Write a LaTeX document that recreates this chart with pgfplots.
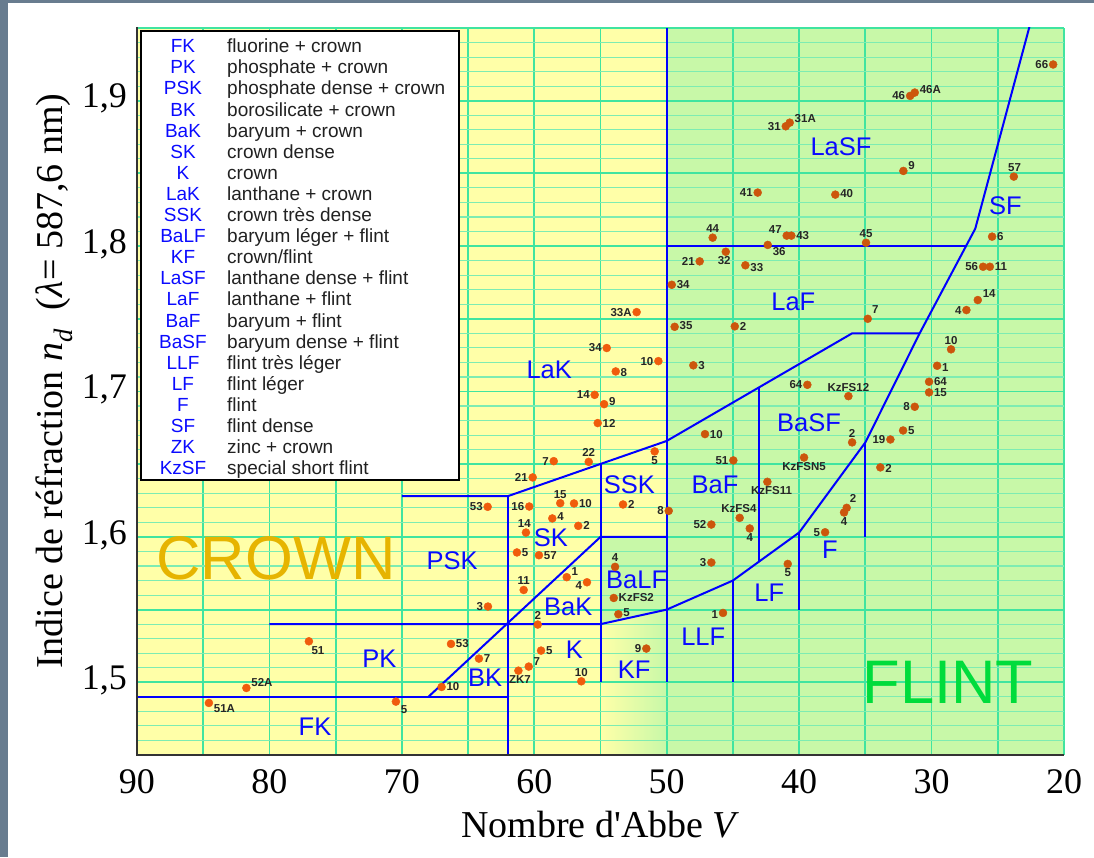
\documentclass[border=0pt]{standalone}
\usepackage{fontspec}
\setmainfont{Liberation Serif}
\setsansfont{Liberation Sans}
\usepackage{pgfplots}
\pgfplotsset{compat=1.18}

\definecolor{yel}{RGB}{255,255,168}
\definecolor{grn}{RGB}{200,248,168}
\definecolor{gridmaj}{RGB}{64,228,160}
\definecolor{gridmin}{RGB}{125,236,178}
\definecolor{dotcrown}{RGB}{240,92,12}
\definecolor{dotflint}{RGB}{204,86,12}
\definecolor{crowngold}{RGB}{230,180,0}
\definecolor{flintgreen}{RGB}{0,220,60}
\definecolor{frame}{RGB}{104,124,143}
\definecolor{regblue}{RGB}{10,10,255}

\tikzset{reg/.style={font=\sffamily\fontsize{25.5}{26}\selectfont, text=regblue, inner sep=0pt}}

\begin{document}
\begin{tikzpicture}
% pixel frame of the whole picture (1 px = 1 pt, origin at the top left)
\begin{scope}[x=1pt,y=-1pt,shift={(-137pt,755pt)}]
  \useasboundingbox (0,0) rectangle (1094,857);
  \fill[frame] (0,0) rectangle (8,857);
  \fill[frame] (0,0) rectangle (1094,3);
\end{scope}

\begin{axis}[
  set layers,
  scale only axis,
  width=927pt, height=727pt,
  at={(0,0)}, anchor=south west,
  x dir=reverse,
  xmin=20, xmax=90, ymin=1.45, ymax=1.95,
  axis line style={draw=none},
  major tick length=0pt, minor tick length=0pt,
  xtick={20,25,...,90},
  xticklabels={20,,30,,40,,50,,60,,70,,80,,90},
  ytick={1.5,1.6,1.7,1.8,1.9},
  minor ytick={1.46,1.47,1.48,1.49,1.51,1.52,1.53,1.54,1.56,1.57,1.58,1.59,
    1.61,1.62,1.63,1.64,1.66,1.67,1.68,1.69,1.71,1.72,1.73,1.74,1.76,1.77,1.78,1.79,
    1.81,1.82,1.83,1.84,1.86,1.87,1.88,1.89,1.91,1.92,1.93,1.94},
  extra y ticks={1.45,1.55,1.65,1.75,1.85,1.95},
  extra y tick labels={},
  extra y tick style={grid=major},
  grid=both,
  major grid style={gridmaj, line width=1.8pt},
  minor grid style={gridmin, line width=1.1pt},
  ticklabel style={font=\fontsize{36}{36}\selectfont},
  xticklabel style={anchor=north, inner sep=0pt, yshift=-14pt},
  yticklabel style={anchor=east, inner sep=0pt, xshift=-10pt, yshift=2pt},
  /pgf/number format/.cd, use comma, fixed, precision=1, assume math mode=true,
  /pgfplots/.cd,
  xlabel={Nombre d\textquotesingle Abbe \textit{V}},
  xlabel style={at={(axis description cs:0.5,-0.077)}, anchor=north,
    inner sep=0pt, font=\fontsize{38}{38}\selectfont},
  ylabel={Indice de réfraction \textit{n}\textsubscript{\textit{d}}\ \ (\textit{λ}= 587,6 nm)},
  ylabel style={at={(axis description cs:-0.0895,0.514)}, anchor=center,
    inner sep=0pt, font=\fontsize{38}{38}\selectfont},
]

\begin{pgfonlayer}{axis background}
  \fill[yel] (axis cs:90,1.45) rectangle (axis cs:50,1.95);
  \fill[grn] (axis cs:50,1.45) rectangle (axis cs:20,1.95);
  \fill[grn] (axis cs:55,1.54) -- (axis cs:50,1.55) -- (axis cs:50,1.60) -- (axis cs:55,1.60) -- cycle;
  \shade[left color=yel, right color=grn] (axis cs:55,1.45) -- (axis cs:55,1.54)
    -- (axis cs:50,1.55) -- (axis cs:50,1.45) -- cycle;
\end{pgfonlayer}

% boundaries of the glass families
\addplot[blue, line width=2pt] coordinates {(90,1.49) (62,1.49)};
\addplot[blue, line width=2pt] coordinates {(80,1.54) (62,1.54) (55,1.54) (50,1.55) (45,1.57)
  (40,1.603) (35,1.665) (30.9,1.74) (26.7,1.812) (22.4,1.958)};
\addplot[blue, line width=2pt] coordinates {(68,1.49) (55,1.60) (50,1.60)};
\addplot[blue, line width=2pt] coordinates {(70,1.628) (62,1.628) (50,1.666) (36,1.74) (30.9,1.74)};
\addplot[blue, line width=2pt] coordinates {(62,1.628) (62,1.45)};
\addplot[blue, line width=2pt] coordinates {(55,1.650) (55,1.50)};
\addplot[blue, line width=2pt] coordinates {(50,1.95) (50,1.50)};
\addplot[blue, line width=2pt] coordinates {(50,1.80) (27.4,1.80)};
\addplot[blue, line width=2pt] coordinates {(43,1.703) (43,1.583)};
\addplot[blue, line width=2pt] coordinates {(45,1.57) (45,1.50)};
\addplot[blue, line width=2pt] coordinates {(40,1.603) (40,1.55)};
\addplot[blue, line width=2pt] coordinates {(35,1.665) (35,1.60)};

\node[font=\sffamily\fontsize{61.5}{62}\selectfont, text=crowngold, inner sep=0pt]
  at (axis cs:79.5,1.585) {CROWN};
\node[font=\sffamily\fontsize{61.5}{62}\selectfont, text=flintgreen, inner sep=0pt]
  at (axis cs:28.75,1.5) {FLINT};

\node[reg] at (axis cs:76.56,1.4695) {FK};
\node[reg] at (axis cs:71.70,1.5163) {PK};
\node[reg] at (axis cs:66.20,1.5833) {PSK};
\node[reg] at (axis cs:63.72,1.5032) {BK};
\node[reg] at (axis cs:57.43,1.5521) {BaK};
\node[reg] at (axis cs:58.74,1.5996) {SK};
\node[reg] at (axis cs:56.98,1.5222) {K};
\node[reg] at (axis cs:52.45,1.5089) {KF};
\node[reg] at (axis cs:52.27,1.5704) {BaLF};
\node[reg] at (axis cs:58.87,1.7149) {LaK};
\node[reg] at (axis cs:52.82,1.6356) {SSK};
\node[reg] at (axis cs:47.24,1.5314) {LLF};
\node[reg] at (axis cs:42.25,1.5617) {LF};
\node[reg] at (axis cs:37.67,1.5910) {F};
\node[reg] at (axis cs:46.35,1.6360) {BaF};
\node[reg] at (axis cs:39.25,1.6787) {BaSF};
\node[reg] at (axis cs:40.44,1.7617) {LaF};
\node[reg] at (axis cs:36.84,1.8684) {LaSF};
\node[reg] at (axis cs:24.43,1.8278) {SF};

% glasses on the crown (yellow) side: Abbe number, n_d, label, label anchor angle
\addplot[only marks, mark=*, mark size=4pt, color=dotcrown,
    point meta=explicit symbolic, nodes near coords,
    visualization depends on={value \thisrow{anc}\as\anc},
    every node near coord/.append style={anchor=\anc, inner sep=4.8pt,
      text=black!85, font=\sffamily\bfseries\fontsize{11.5}{12}\selectfont}]
  table[x=V, y=n, meta=lab] {
V n lab anc
84.57 1.4858 51A 160
81.74 1.4961 52A 200
77.02 1.5282 51 135
70.45 1.4867 5 135
67.00 1.4968 10 180
66.29 1.5264 53 180
64.18 1.5163 7 180
63.52 1.6207 53 0
63.50 1.5521 3 0
61.31 1.5893 5 180
61.20 1.5080 ZK7 100
60.80 1.5635 11 270
60.63 1.6030 14 280
60.42 1.5108 7 210
60.38 1.6209 16 0
60.12 1.6409 21 0
59.74 1.5397 2 270
59.65 1.5874 57 180
59.49 1.5218 5 180
58.64 1.6127 4 190
58.53 1.6521 7 0
58.04 1.6232 15 270
57.55 1.5723 1 215
57.00 1.6230 10 180
56.68 1.6076 2 180
56.45 1.5007 10 270
56.02 1.5688 4 20
55.89 1.6516 22 270
55.44 1.6977 14 0
55.21 1.6783 12 180
54.73 1.6913 9 200
54.53 1.7299 34 0
53.85 1.7138 8 175
53.30 1.6223 2 180
52.27 1.7546 33A 0
50.91 1.6588 5 90
50.63 1.7209 10 0
};

% glasses on the flint (green) side
\addplot[only marks, mark=*, mark size=4pt, color=dotflint,
    point meta=explicit symbolic, nodes near coords,
    visualization depends on={value \thisrow{anc}\as\anc},
    every node near coord/.append style={anchor=\anc, inner sep=4.8pt,
      text=black!85, font=\sffamily\bfseries\fontsize{11.5}{12}\selectfont}]
  table[x=V, y=n, meta=lab] {
V n lab anc
54.00 1.5580 KzFS2 180
53.90 1.5794 4 270
53.65 1.5468 5 190
51.54 1.5232 9 0
49.85 1.6179 8 0
49.62 1.7734 34 180
49.40 1.7445 35 185
47.99 1.7180 3 175
47.51 1.7895 21 0
47.11 1.6707 10 180
46.63 1.6085 52 0
46.63 1.5824 3 0
46.53 1.8058 44 270
45.75 1.5477 1 10
45.54 1.7961 32 80
44.97 1.6526 51 0
44.86 1.7448 2 180
44.49 1.6131 KzFS4 275
44.06 1.7868 33 170
43.73 1.6058 4 90
43.13 1.8368 41 0
42.40 1.6379 KzFS11 115
42.37 1.8008 36 150
41.01 1.8824 31 0
40.94 1.8072 47 330
40.86 1.5814 5 90
40.71 1.8849 31A 195
40.59 1.8072 43 180
39.63 1.6546 KzFSN5 90
39.38 1.7046 64 0
38.04 1.6032 5 0
37.27 1.8354 40 185
36.61 1.6168 4 90
36.41 1.6200 2 235
36.28 1.6968 KzFS12 270
36.00 1.6650 2 270
34.95 1.8023 45 270
34.82 1.7500 7 230
33.87 1.6478 2 170
33.11 1.6670 19 0
32.15 1.6732 5 180
32.13 1.8517 9 215
31.62 1.9033 46 0
31.27 1.9056 46A 190
31.27 1.6895 8 0
30.19 1.7067 64 180
30.19 1.6994 15 180
29.58 1.7177 1 170
28.53 1.7290 10 270
27.37 1.7560 4 0
26.51 1.7629 14 210
26.11 1.7858 56 0
25.60 1.7858 11 180
25.43 1.8065 6 180
23.79 1.8478 57 265
20.82 1.9249 66 0
};
\end{axis}

\begin{scope}[x=1pt,y=-1pt,shift={(-137pt,755pt)}]
  \draw[black!80, line width=2.4pt] (137,27) -- (137,755) -- (1064,755);
  \draw[black, line width=2pt, fill=white] (141,31) rectangle (459,480);
  \foreach \a/\b [count=\i from 0] in {FK/fluorine + crown, PK/phosphate + crown,
      PSK/phosphate dense + crown, BK/borosilicate + crown, BaK/baryum + crown,
      SK/crown dense, K/crown, LaK/lanthane + crown, SSK/crown très dense,
      BaLF/baryum léger + flint, KF/{crown/flint}, LaSF/lanthane dense + flint,
      LaF/lanthane + flint, BaF/baryum + flint, BaSF/baryum dense + flint,
      LLF/flint très léger, LF/flint léger, F/flint, SF/flint dense,
      ZK/zinc + crown, KzSF/special short flint}{
    \node[anchor=base, inner sep=0pt, text=regblue, font=\sffamily\fontsize{19}{19}\selectfont]
      at (183,{52.8+21.1*\i}) {\a};
    \node[anchor=base west, inner sep=0pt, text=black!87, font=\sffamily\fontsize{19}{19}\selectfont]
      at (227,{52.8+21.1*\i}) {\b};
  }
\end{scope}
\end{tikzpicture}
\end{document}
